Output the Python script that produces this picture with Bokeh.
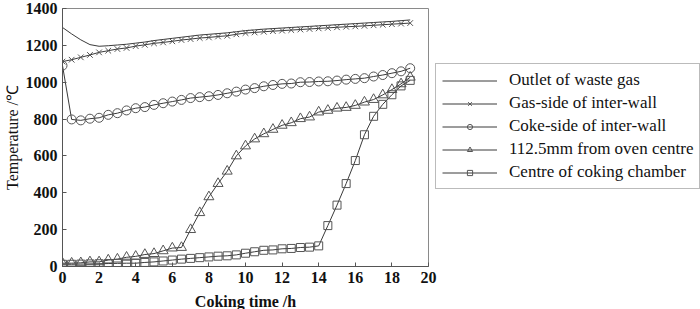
from bokeh.plotting import figure
from bokeh.models import Legend, LegendItem, Range1d, FixedTicker
from bokeh.embed import file_html
from bokeh.resources import INLINE

hours = [0, 0.5, 1, 1.5, 2, 2.5, 3, 3.5, 4, 4.5, 5, 5.5, 6, 6.5, 7, 7.5, 8, 8.5, 9, 9.5,
         10, 10.5, 11, 11.5, 12, 12.5, 13, 13.5, 14, 14.5, 15, 15.5, 16, 16.5, 17, 17.5, 18, 18.5, 19]

outlet_waste_gas = [1297, 1262, 1230, 1204, 1195, 1198, 1202, 1206, 1212, 1218, 1226, 1232, 1238, 1244,
                    1250, 1256, 1260, 1264, 1268, 1274, 1280, 1284, 1288, 1291, 1294, 1297, 1300, 1303,
                    1306, 1309, 1312, 1315, 1318, 1321, 1324, 1327, 1330, 1334, 1338]
gas_side = [1112, 1122, 1135, 1148, 1162, 1171, 1180, 1186, 1196, 1203, 1211, 1216, 1222, 1229, 1234,
            1240, 1243, 1248, 1252, 1260, 1267, 1270, 1274, 1277, 1280, 1283, 1286, 1289, 1292, 1295,
            1298, 1301, 1303, 1306, 1309, 1312, 1315, 1318, 1321]
coke_side = [1090, 798, 793, 802, 807, 823, 832, 847, 859, 865, 877, 886, 895, 904, 914, 919, 924, 931,
             940, 949, 960, 968, 978, 985, 991, 993, 1000, 1001, 1004, 1005, 1009, 1014, 1018, 1022,
             1031, 1039, 1049, 1059, 1076]
mm_from_centre = [18, 18, 20, 25, 25, 35, 40, 50, 55, 65, 70, 85, 100, 103, 200, 292, 378, 450, 517, 600,
                  654, 692, 720, 744, 766, 780, 802, 811, 838, 847, 859, 863, 874, 892, 906, 931, 960,
                  991, 1027]
centre_chamber = [12, 12, 13, 14, 15, 16, 17, 18, 18, 22, 25, 30, 35, 40, 44, 48, 52, 56, 58, 63, 72, 80,
                  88, 90, 96, 98, 103, 105, 112, 222, 333, 450, 575, 715, 815, 880, 932, 980, 1010]

series_names = ["Outlet of waste gas", "Gas-side of inter-wall", "Coke-side of inter-wall",
                "112.5mm from oven centre", "Centre of coking chamber"]
x_ticks = [0, 2, 4, 6, 8, 10, 12, 14, 16, 18, 20]
y_ticks = [0, 200, 400, 600, 800, 1000, 1200, 1400]

SERIF = "Liberation Serif"
LINE = "#3a3a3a"
MARK = "#555555"
AX = "#8a8a8a"

p = figure(frame_width=366, frame_height=258, output_backend="svg", toolbar_location=None,
           x_range=Range1d(0, 20), y_range=Range1d(0, 1400),
           min_border_top=8, min_border_left=0, min_border_right=0, min_border_bottom=0)
p.xgrid.visible = False
p.ygrid.visible = False
p.outline_line_color = AX
p.background_fill_color = "white"

for ax, ticks in ((p.xaxis[0], x_ticks), (p.yaxis[0], y_ticks)):
    ax.ticker = FixedTicker(ticks=ticks)
    ax.major_tick_in = 4
    ax.major_tick_out = 0
    ax.minor_tick_line_color = None
    ax.axis_line_color = "#555555"
    ax.major_tick_line_color = "#555555"
    ax.major_label_text_font = SERIF
    ax.major_label_text_font_style = "bold"
    ax.major_label_text_font_size = "16px"
    ax.major_label_text_color = "#111111"
    ax.axis_label_text_font = SERIF
    ax.axis_label_text_font_size = "16px"
    ax.axis_label_text_color = "#111111"

p.xaxis.axis_label = "Coking time /h"
p.xaxis.axis_label_text_font_style = "bold"
p.xaxis.major_label_standoff = 5
p.xaxis.axis_label_standoff = 7
p.yaxis.axis_label = "Temperature /\u2103"
p.yaxis.axis_label_text_font_style = "normal"
p.yaxis.major_label_standoff = 5
p.yaxis.axis_label_standoff = 2

items = []
l0 = p.line(hours, outlet_waste_gas, line_color=LINE, line_width=1)
items.append(LegendItem(label=series_names[0], renderers=[l0]))

specs = [(gas_side, "x", 8), (coke_side, "circle", 9), (mm_from_centre, "triangle", 10),
         (centre_chamber, "square", 8)]
for i, (vals, mk, sz) in enumerate(specs, start=1):
    ln = p.line(hours, vals, line_color=LINE, line_width=1)
    sc = p.scatter(hours, vals, marker=mk, size=sz, line_color=MARK, fill_color=None, line_width=1)
    items.append(LegendItem(label=series_names[i], renderers=[ln, sc]))

legend = Legend(items=items, location=(7, 77), margin=0, padding=6, spacing=3,
                glyph_width=55, glyph_height=13, label_height=18, label_standoff=12,
                label_text_font=SERIF, label_text_font_size="17px", label_text_color="#111111",
                border_line_color="#777777", border_line_width=1, background_fill_alpha=1)
p.add_layout(legend, "right")

open("out.html", "w").write(file_html(p, INLINE))
